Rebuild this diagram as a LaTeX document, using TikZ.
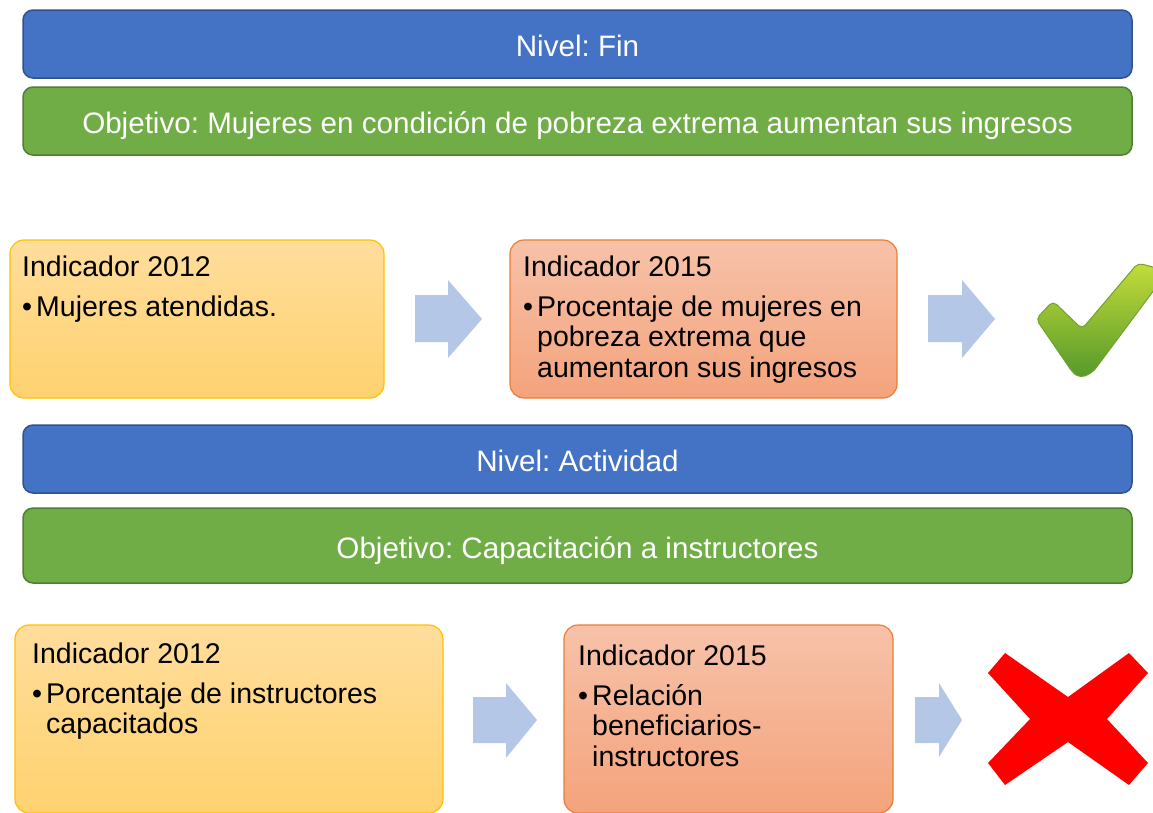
\documentclass[tikz,border=0pt]{standalone}
\usepackage{fontspec}
\setmainfont{Liberation Sans}
\frenchspacing
\definecolor{barblue}{HTML}{4472C4}
\definecolor{barblueline}{HTML}{2F528F}
\definecolor{bargreen}{HTML}{70AD47}
\definecolor{bargreenline}{HTML}{507E32}
\definecolor{ytop}{HTML}{FFDD9C}
\definecolor{ybot}{HTML}{FFD26F}
\definecolor{yline}{HTML}{FFC000}
\definecolor{stop}{HTML}{F7C2A9}
\definecolor{sbot}{HTML}{F4A37C}
\definecolor{sline}{HTML}{ED7D31}
\definecolor{arrowblue}{HTML}{B4C7E7}
\definecolor{chktop}{HTML}{C4DC3A}
\definecolor{chkbot}{HTML}{55992A}
\definecolor{chkline}{HTML}{6FA22E}
\definecolor{xred}{HTML}{FF0000}
\newcommand{\bul}{\makebox[14pt][l]{•}}
\newcommand{\ind}{\hspace*{14pt}}
\tikzset{
  bar/.style={draw, line width=1.5pt, rounded corners=10pt, minimum width=1109pt,
    text=white, font=\fontsize{29.6}{32}\selectfont\frenchspacing, text height=25.4pt, text depth=0pt},
  bluebar/.style={bar, fill=barblue, draw=barblueline},
  greenbar/.style={bar, fill=bargreen, draw=bargreenline},
  ybox/.style={draw=yline, line width=1.2pt, rounded corners=14pt, top color=ytop, bottom color=ybot},
  sbox/.style={draw=sline, line width=1.2pt, rounded corners=14pt, top color=stop, bottom color=sbot},
  boxtext/.style={anchor=base west, inner sep=0pt, font=\fontsize{28.5}{30.5}\selectfont, text=black},
  blockarrow/.style={fill=arrowblue},
}
\begin{document}
\begin{tikzpicture}[x=1pt,y=-1pt]
\useasboundingbox (0,0) rectangle (1153,812);
\clip (0,0) rectangle (1153,812);
% bars
\node[bluebar, minimum height=68pt] (b1) at (577.5,44) {Nivel: Fin};
\node[greenbar, minimum height=68pt] (g1) at (577.5,121) {Objetivo: Mujeres en condición de pobreza extrema aumentan sus ingresos};
\node[bluebar, minimum height=68pt] (b2) at (577.5,459) {Nivel: Actividad};
\node[greenbar, minimum height=75pt] (g2) at (577.5,545.5) {Objetivo: Capacitación a instructores};
% indicator boxes
\node[ybox, minimum width=374pt, minimum height=158pt] (y1) at (197,319) {};
\node[sbox, minimum width=387pt, minimum height=158pt] (s1) at (703.5,319) {};
\node[ybox, minimum width=428pt, minimum height=188pt] (y2) at (229,719) {};
\node[sbox, minimum width=329pt, minimum height=188pt] (s2) at (728.5,719) {};
% texts
\node[boxtext] (y1t) at (22,276) {\begin{tabular}[t]{@{}l@{}}Indicador 2012\\[9.5pt]\bul Mujeres atendidas.\end{tabular}};
\node[boxtext] (s1t) at (523,276) {\begin{tabular}[t]{@{}l@{}}Indicador 2015\\[9.5pt]\bul Procentaje de mujeres en\\\ind pobreza extrema que\\\ind aumentaron sus ingresos\end{tabular}};
\node[boxtext] (y2t) at (32,663) {\begin{tabular}[t]{@{}l@{}}Indicador 2012\\[9.5pt]\bul Porcentaje de instructores\\\ind capacitados\end{tabular}};
\node[boxtext] (s2t) at (578,665) {\begin{tabular}[t]{@{}l@{}}Indicador 2015\\[9.5pt]\bul Relación\\\ind beneficiarios-\\\ind instructores\end{tabular}};
% block arrows
\path[blockarrow] (415,295) -- (448,295) -- (448,280) -- (482,319) -- (448,358) -- (448,342) -- (415,342) -- cycle;
\path[blockarrow] (928,295) -- (962,295) -- (962,280) -- (995,319) -- (962,358) -- (962,342) -- (928,342) -- cycle;
\path[blockarrow] (473,697) -- (506,697) -- (506,683) -- (537,720) -- (506,758) -- (506,743) -- (473,743) -- cycle;
\path[blockarrow] (915,697) -- (939,697) -- (939,683) -- (962,720) -- (939,757) -- (939,743) -- (915,743) -- cycle;
% check mark
\path[draw=chkline, line width=1pt, top color=chktop, bottom color=chkbot, rounded corners=5pt]
  (1036,319) -- (1053,301) -- (1082,329) -- (1138,263) -- (1160,269) -- (1160,282)
  -- (1093,372) -- (1081,378) -- (1073,373) -- cycle;
% red cross
\path[fill=xred] (988,673) -- (1005,653) -- (1068,697) -- (1129,653) -- (1148,673) -- (1107,719)
  -- (1148,763) -- (1129,785) -- (1068,742) -- (1005,785) -- (988,763) -- (1030,719) -- cycle;
\end{tikzpicture}
\end{document}
